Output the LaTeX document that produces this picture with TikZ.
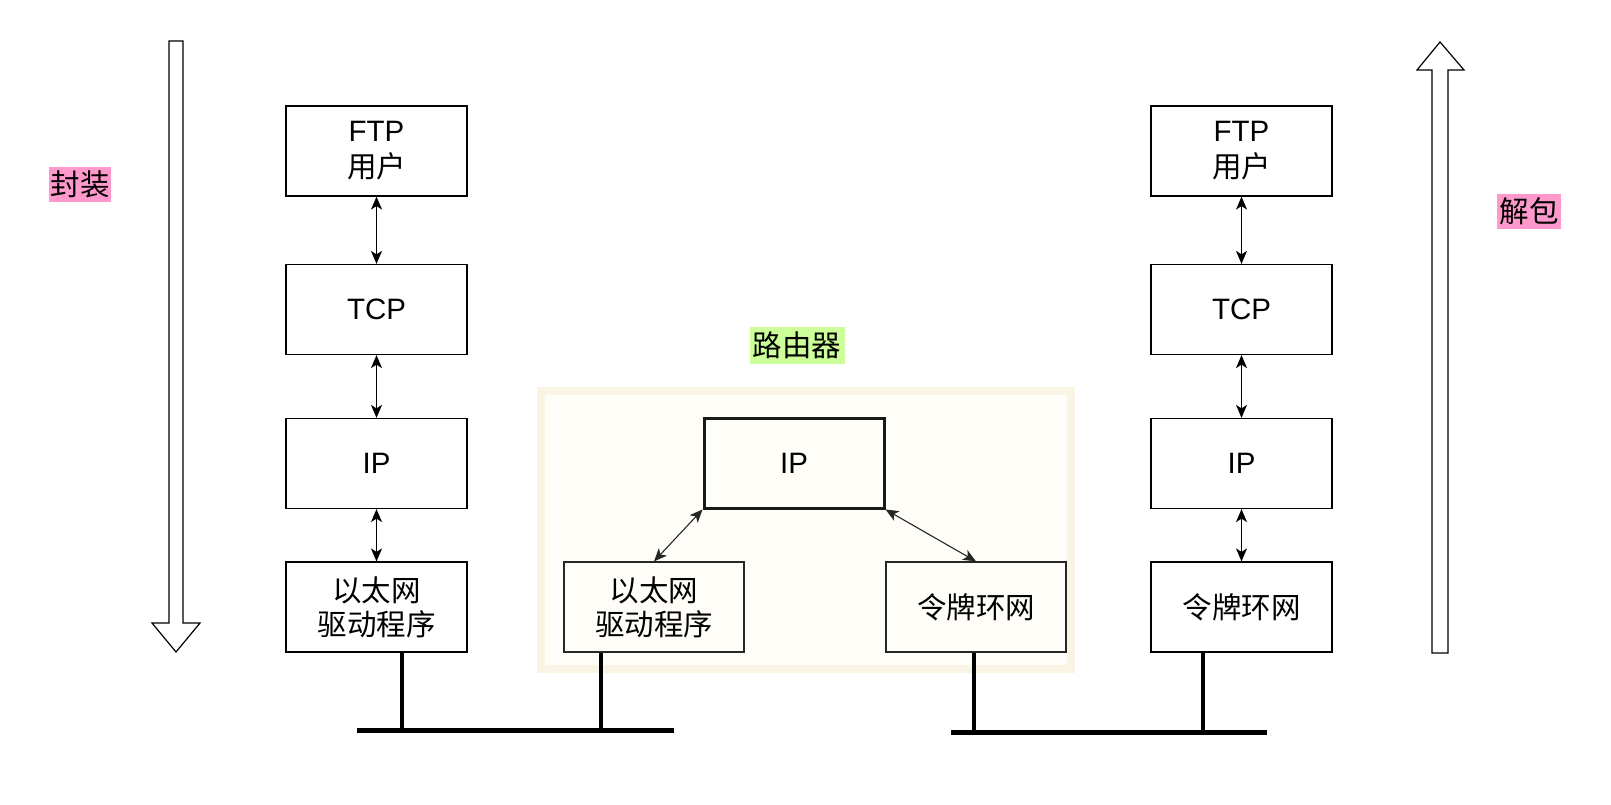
\documentclass[tikz,border=0pt]{standalone}
\usepackage{fontspec}
\setmainfont{Liberation Sans}
\newfontfamily\cjk{Noto Sans CJK SC}
\usetikzlibrary{arrows.meta}
\definecolor{pinkhl}{HTML}{FF99CC}
\definecolor{greenhl}{HTML}{CCFF99}
\definecolor{routerfill}{HTML}{FFFDF7}
\definecolor{routerline}{HTML}{F9F4E4}
\begin{document}
\begin{tikzpicture}[x=1pt,y=-1pt,
  layer/.style={draw=black, line width=1.2pt, minimum width=181pt, minimum height=90pt, inner sep=0pt, align=center, font=\fontsize{29.5}{34}\selectfont, fill=white},
  rlayer/.style={layer, draw=black!85, fill=routerfill, minimum width=180pt},
  tipx/.tip={Stealth[length=13pt,width=11pt,inset=3.5pt]},
  link/.style={tipx-tipx, line width=1.4pt},
  rlink/.style={link, draw=black!85, line width=1.1pt},
  wire/.style={line width=3.7pt},
  bus/.style={line width=5pt},
  hollow/.style={draw=black, line width=1.2pt, fill=white},
  tag/.style={inner sep=0pt, minimum height=35pt, font=\cjk\fontsize{29.5}{34}\selectfont}
]
\useasboundingbox (0,0) rectangle (1611,805);

% router background
\node[draw=routerline, line width=8pt, fill=routerfill, minimum width=530pt, minimum height=278pt, inner sep=0pt] (router) at (805.75,530) {};

% big hollow arrows
\draw[hollow] (169,41) -- (183,41) -- (183,623) -- (200,623) -- (176,652) -- (152,623) -- (169,623) -- cycle;
\draw[hollow] (1432,653) -- (1448,653) -- (1448,70) -- (1464,70) -- (1440,42) -- (1417,70) -- (1432,70) -- cycle;

% labels
\node[tag, fill=pinkhl, minimum width=62pt] (enc) at (80,184.5) {封装};
\node[tag, fill=pinkhl, minimum width=64pt] (dec) at (1529,211.5) {解包};
\node[tag, fill=greenhl, minimum width=95pt, minimum height=37pt] (rlabel) at (797,345) {路由器};

% left host
\node[layer] (ftp1) at (376.5,151) {FTP\\[2pt]{\cjk 用户}};
\node[layer] (tcp1) at (376.5,309.5) {TCP};
\node[layer] (ip1) at (376.5,463.5) {IP};
\node[layer] (eth1) at (376.5,607) {{\cjk 以太网}\\{\cjk 驱动程序}};

% right host
\node[layer] (ftp2) at (1241.5,151) {FTP\\[2pt]{\cjk 用户}};
\node[layer] (tcp2) at (1241.5,309.5) {TCP};
\node[layer] (ip2) at (1241.5,463.5) {IP};
\node[layer] (tr2) at (1241.5,607) {\cjk 令牌环网};

% router
\node[rlayer, line width=3pt, draw=black!90] (rip) at (794,463) {IP};
\node[rlayer] (reth) at (654,607) {{\cjk 以太网}\\{\cjk 驱动程序}};
\node[rlayer] (rtr) at (976,607) {\cjk 令牌环网};

% links
\draw[link] (ftp1) -- (tcp1);
\draw[link] (tcp1) -- (ip1);
\draw[link] (ip1) -- (eth1);
\draw[link] (ftp2) -- (tcp2);
\draw[link] (tcp2) -- (ip2);
\draw[link] (ip2) -- (tr2);
\draw[rlink] (rip.south west) -- (reth.north);
\draw[rlink] (rip.south east) -- (rtr.north);

% wires and buses
\coordinate (w1) at (402,730);
\coordinate (w2) at (601,730);
\coordinate (w3) at (974,732);
\coordinate (w4) at (1203,732);
\coordinate (bus1a) at (357,730);
\coordinate (bus1b) at (674,730);
\coordinate (bus2a) at (951,732);
\coordinate (bus2b) at (1267,732);
\draw[wire] (eth1.south -| w1) -- (w1);
\draw[wire] (reth.south -| w2) -- (w2);
\draw[wire] (rtr.south -| w3) -- (w3);
\draw[wire] (tr2.south -| w4) -- (w4);
\draw[bus] (bus1a) -- (bus1b);
\draw[bus] (bus2a) -- (bus2b);
\end{tikzpicture}
\end{document}
